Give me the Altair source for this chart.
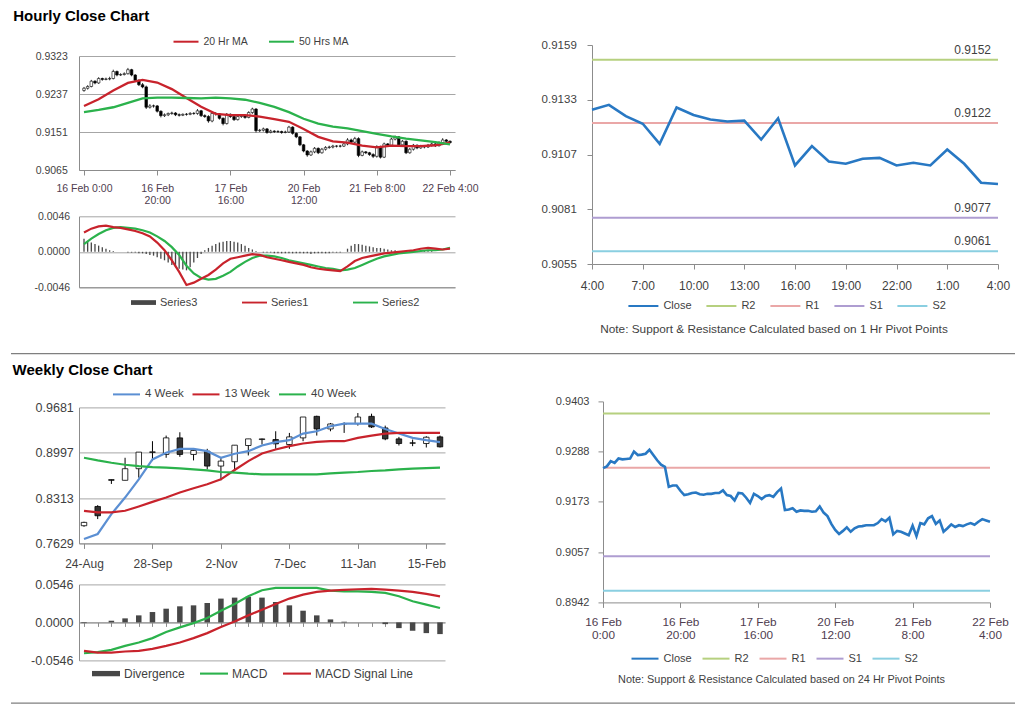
import altair as alt
import pandas as pd

FONT = "Liberation Sans"
AXC = "#8c8c8c"
GRID = "#a6a6a6"
LBL = "#3f3f3f"
DATEC = "#4f3d4f"
RED = "#c8232c"
GREEN = "#2bb24c"
BLUE4 = "#5b8fd3"
CLOSE = "#2878c3"
DARK = "#474747"
LEVEL_NAMES = ["R2", "R1", "S1", "S2"]
LEVEL_COLORS = ["#b6d07f", "#eaa7a7", "#ae9dd1", "#8acfe1"]

# ---------------- Hourly data (in pips: value / 10000) ----------------
h_open = [9245,9250,9254,9266,9262,9272,9270,9271,9272,9288,
          9280,9281,9283,9292,9280,9268,9258,9253,9207,9210,
          9210,9198,9188,9190,9193,9194,9190,9189,9191,9191,
          9193,9193,9199,9188,9186,9176,9193,9192,9182,9170,
          9191,9186,9179,9186,9188,9184,9195,9203,9154,9155,
          9158,9150,9153,9152,9152,9150,9151,9162,9148,9140,
          9122,9108,9099,9106,9114,9104,9112,9116,9117,9119,
          9119,9119,9124,9133,9128,9136,9098,9106,9104,9100,
          9096,9118,9094,9124,9121,9135,9140,9122,9130,9104,
          9112,9121,9115,9119,9117,9121,9124,9120,9127,9133,
          9130]
h_high = [9253,9257,9269,9268,9275,9274,9274,9276,9292,9290,
          9284,9286,9296,9294,9282,9270,9262,9256,9214,9213,
          9212,9200,9193,9195,9197,9196,9193,9193,9194,9196,
          9196,9203,9201,9191,9189,9196,9196,9194,9184,9194,
          9193,9189,9190,9191,9190,9198,9206,9205,9158,9161,
          9160,9156,9155,9155,9154,9154,9165,9164,9150,9142,
          9124,9110,9109,9117,9116,9115,9119,9120,9122,9121,
          9122,9127,9137,9136,9140,9139,9109,9108,9106,9103,
          9121,9120,9127,9126,9138,9143,9142,9133,9132,9115,
          9124,9123,9122,9121,9124,9127,9126,9130,9137,9135,
          9132]
h_low = [9242,9247,9252,9259,9260,9267,9268,9268,9270,9277,
         9278,9279,9281,9277,9265,9255,9250,9203,9204,9206,
         9195,9184,9185,9187,9190,9187,9186,9187,9188,9189,
         9190,9190,9185,9183,9172,9173,9188,9179,9166,9168,
         9183,9176,9177,9183,9181,9182,9192,9150,9151,9152,
         9147,9148,9149,9149,9147,9148,9149,9145,9137,9119,
         9105,9095,9097,9103,9101,9102,9109,9113,9114,9116,
         9116,9117,9121,9125,9126,9094,9096,9101,9097,9092,
         9093,9091,9092,9118,9119,9132,9119,9120,9101,9102,
         9109,9112,9113,9114,9115,9118,9117,9118,9124,9127,
         9125]
h_close = [9250,9254,9266,9262,9272,9270,9271,9272,9288,9280,
           9281,9283,9292,9280,9268,9258,9253,9207,9210,9210,
           9198,9188,9190,9193,9194,9190,9189,9191,9191,9193,
           9193,9199,9188,9186,9176,9193,9192,9182,9170,9191,
           9186,9179,9186,9188,9184,9195,9203,9154,9155,9158,
           9150,9153,9152,9152,9150,9151,9162,9148,9140,9122,
           9108,9099,9106,9114,9104,9112,9116,9117,9119,9119,
           9119,9124,9133,9128,9136,9098,9106,9104,9100,9096,
           9118,9094,9124,9121,9135,9140,9122,9130,9104,9112,
           9121,9115,9119,9117,9121,9124,9120,9127,9133,9130,
           9127]
h_ma_idx = list(range(0, 101, 4))
h_ma20 = [9210,9225,9245,9262,9269,9263,9248,9228,9208,9192,9189,9189,9186,
          9180,9174,9158,9140,9130,9127,9120,9116,9120,9119,9119,9121,9127]
h_ma50 = [9196,9201,9207,9217,9227,9229,9229,9228,9227,9229,9227,9224,9217,
          9208,9196,9181,9170,9163,9159,9153,9147,9141,9136,9132,9128,9123]
h_tick_idx = [0, 20, 40, 60, 80, 100]
h_tick_lbl = ["16 Feb 0:00", "16 Feb|20:00", "17 Feb|16:00", "20 Feb|12:00", "21 Feb 8:00", "22 Feb 4:00"]
h_tick_lbl2 = ["16 Feb|0:00", "16 Feb|20:00", "17 Feb|16:00", "20 Feb|12:00", "21 Feb|8:00", "22 Feb|4:00"]
h_y_ticks = [0.9065, 0.9151, 0.9237, 0.9323]

# hourly oscillator (units of 0.0001)
h_osc_idx = list(range(0, 101, 2))
h_series1 = [25,30,33,34,32,31,29,27,24,20, 12,2,-11,-26,-43,-40,-35,-30,-23,-15,
             -9,-7,-5,-3,-4,-7,-9,-11,-13,-15, -17,-20,-22,-23,-24,-25,-19,-12,-8,-6,
             -4,-2,-1,0,1,2,4,5,4,3, 4]
h_series2 = [10,17,23,28,31,32,31,30,28,25, 20,14,6,-4,-18,-28,-34,-36,-35,-31,
             -26,-19,-13,-8,-5,-5,-6,-8,-11,-13, -15,-17,-19,-21,-22,-24,-23,-21,-17,-13,
             -9,-6,-4,-2,-1,0,1,2,2,3, 5]
h_series3 = [17,14,12,10,8,6,4,2,1,0,
             0,0,-1,-1,-1,-2,-2,-3,-4,-5,
             -7,-9,-11,-14,-17,-20,-22,-23,-24,-20,
             -14,-8,-3,2,5,8,10,12,13,14,
             14,13,12,10,8,5,3,1,0,-1,
             -1,-1,-2,-2,-2,-2,-2,-2,-2,-2,
             -2,-2,-3,-2,-2,-2,-2,-2,-1,-1,
             -1,0,4,8,10,10,9,8,7,6,
             5,5,4,3,2,2,1,1,1,1,
             1,1,1,1,1,1,0,0,0,0,
             0]
h_osc_ticks = [-0.0046, 0.0, 0.0046]

# 1 hour pivot chart
p1_close = [0.91283,0.91306,0.91252,0.91216,0.91121,0.91293,0.91258,0.91236,0.91227,0.91231,
            0.91141,0.91242,0.91018,0.91110,0.91037,0.91026,0.91050,0.91054,0.91018,0.91031,
            0.91018,0.91094,0.91026,0.90936,0.90930]
p1_ticks = [0, 3, 6, 9, 12, 15, 18, 21, 24]
p1_tick_lbl = ["4:00", "7:00", "10:00", "13:00", "16:00", "19:00", "22:00", "1:00", "4:00"]
p1_levels = [0.9152, 0.9122, 0.9077, 0.9061]
p1_y_ticks = [0.9055, 0.9081, 0.9107, 0.9133, 0.9159]

# 24 hour pivot chart (uses hourly closes)
p24_levels = [0.9375, 0.9251, 0.9048, 0.8969]
p24_y_ticks = [0.8942, 0.9057, 0.9173, 0.9288, 0.9403]

# ---------------- Weekly data ----------------
w_open = [0.7896,0.8186,0.8591,0.8581,0.8756,0.9001,0.8971,0.9221,0.8971,0.9021,0.8796,0.8861,0.9106,
          0.9196,0.9196,0.9121,0.9221,0.9546,0.9356,0.9431,0.9436,0.9546,0.9371,0.9206,0.9146,0.9136,0.9236]
w_high = [0.7956,0.8206,0.8591,0.8921,0.9006,0.9171,0.9256,0.9306,0.9031,0.9056,0.8921,0.9111,0.9206,
          0.9211,0.9321,0.9296,0.9536,0.9556,0.9446,0.9456,0.9596,0.9586,0.9406,0.9236,0.9196,0.9246,0.9256]
w_low = [0.7880,0.7996,0.8526,0.8581,0.8621,0.8871,0.8921,0.8936,0.8881,0.8746,0.8581,0.8731,0.8956,
         0.9121,0.9056,0.9056,0.9171,0.9256,0.9321,0.9296,0.9406,0.9371,0.9186,0.9106,0.9096,0.9076,0.9076]
w_close = [0.7946,0.8046,0.8581,0.8756,0.9006,0.9011,0.9221,0.8971,0.9031,0.8796,0.8871,0.9111,0.9206,
           0.9206,0.9131,0.9236,0.9536,0.9356,0.9431,0.9436,0.9536,0.9386,0.9206,0.9136,0.9141,0.9231,0.9086]
w_ma4 = [0.7696,0.7771,0.8071,0.8321,0.8596,0.8896,0.8996,0.9056,0.9056,0.9021,0.8921,0.8981,0.9021,
         0.9106,0.9156,0.9186,0.9286,0.9321,0.9396,0.9436,0.9436,0.9436,0.9356,0.9286,0.9221,0.9186,0.9156]
w_ma13 = [0.8121,0.8096,0.8096,0.8121,0.8186,0.8256,0.8321,0.8396,0.8461,0.8521,0.8596,0.8736,0.8871,
          0.8986,0.9046,0.9096,0.9136,0.9161,0.9171,0.9171,0.9221,0.9256,0.9286,0.9296,0.9296,0.9296,0.9296]
w_ma40 = [0.8921,0.8881,0.8846,0.8816,0.8796,0.8781,0.8771,0.8761,0.8746,0.8731,0.8706,0.8696,0.8681,
          0.8671,0.8671,0.8671,0.8671,0.8671,0.8686,0.8696,0.8706,0.8721,0.8731,0.8746,0.8756,0.8766,0.8771]
w_div = [-0.0010,0.0,0.0024,0.0058,0.0101,0.0149,0.0197,0.0231,0.0245,0.0279,0.0342,0.0356,0.0370,
         0.0356,0.0293,0.0245,0.0168,0.0101,0.0043,0.0010,0.0,0.0,-0.0025,-0.0082,-0.0120,-0.0154,-0.0168]
w_macd = [-0.0443,-0.0428,-0.0394,-0.0337,-0.0289,-0.0226,-0.0139,-0.0072,-0.0010,0.0063,0.0168,0.0265,0.0375,
          0.0462,0.0495,0.0495,0.0495,0.0495,0.0457,0.0447,0.0447,0.0438,0.0423,0.0375,0.0303,0.0255,0.0207]
w_signal = [-0.0409,-0.0433,-0.0433,-0.0418,-0.0409,-0.0380,-0.0337,-0.0289,-0.0226,-0.0154,-0.0067,0.0014,0.0101,
            0.0183,0.0265,0.0342,0.0399,0.0438,0.0457,0.0467,0.0476,0.0481,0.0471,0.0457,0.0438,0.0409,0.0375]
w_ticks = [0, 5, 10, 15, 20, 25]
w_tick_lbl = ["24-Aug", "28-Sep", "2-Nov", "7-Dec", "11-Jan", "15-Feb"]
w_y_ticks = [0.7629, 0.8313, 0.8997, 0.9681]
w_osc_ticks = [-0.0546, 0.0, 0.0546]

THICK = "M-1,-0.19H1V0.19H-1Z"
THIN = "M-1,-0.075H1V0.075H-1Z"
NUM_EXPR = "datum.value < 0 ? '-' + format(-datum.value, '.4f') : format(datum.value, '.4f')"


def pip(v, k=10000.0):
    return [x / k for x in v]


def lexpr(ticks, labels):
    arr = ",".join("'" + s + "'" for s in labels)
    tv = ",".join(str(t) for t in ticks)
    return "split([" + arr + "][indexof([" + tv + "], datum.value)], '|')"


def xenc(dmax, ticks, labels, fs, color, pad, lh=12.5, tick=5, show=True, offset=0, tickvals=None):
    ax = dict(title=None, grid=False, domainColor=AXC, tickColor=AXC, tickSize=tick,
              labelPadding=pad, labelFontSize=fs, labelColor=color, labelLineHeight=lh,
              labelOverlap=False, labelFlush=False, labelBound=False, offset=offset)
    if show:
        ax.update(values=ticks, labelExpr=lexpr(ticks, labels))
    else:
        ax.update(values=tickvals if tickvals is not None else ticks, labels=False)
        if tick == 0:
            ax.update(ticks=False)
    return alt.X("i:Q", scale=alt.Scale(domain=[0, dmax], nice=False, zero=False), axis=alt.Axis(**ax))


def yenc(field, dom, ticks, fs, pad, grid=True, tick=0, rng=None):
    ax = dict(values=ticks, labelExpr=NUM_EXPR, title=None, grid=grid, gridColor=GRID, domainColor=AXC,
              labelPadding=pad, labelFontSize=fs, labelColor=LBL)
    if tick:
        ax.update(ticks=True, tickSize=tick, tickColor=AXC)
    else:
        ax.update(ticks=False)
    sc = dict(domain=dom, nice=False, zero=False)
    if rng is not None:
        sc["range"] = rng
    return alt.Y(field + ":Q", scale=alt.Scale(**sc), axis=alt.Axis(**ax))


def line_legend(x, y, length, fs, colpad, each=False):
    kw = dict(orient="none", legendX=x, legendY=y, direction="horizontal", title=None,
              symbolType="stroke", symbolSize=length * length, symbolStrokeWidth=2,
              labelFontSize=fs, labelColor=LBL, columnPadding=colpad, padding=0,
              labelOffset=4, labelFont=FONT)
    if each:
        kw["gridAlign"] = "each"
    return alt.Legend(**kw)


def mixed_legend(x, y, length, fs, colpad):
    return alt.Legend(orient="none", legendX=x, legendY=y, direction="horizontal", title=None,
                      symbolSize=length * length, symbolOpacity=1, symbolStrokeWidth=0,
                      labelFontSize=fs, labelColor=LBL, columnPadding=colpad, padding=0,
                      labelOffset=4, labelFont=FONT)


# ---------------- Hourly main (candles + MAs) ----------------
HM_W, HM_H, HM_TOP = 376, 114, 11
n_h = len(h_close)
hc = pd.DataFrame({"i": list(range(n_h)), "o": pip(h_open), "h": pip(h_high),
                   "l": pip(h_low), "c": pip(h_close)})
hma = pd.concat([
    pd.DataFrame({"i": h_ma_idx, "v": pip(h_ma20), "s": "20 Hr MA"}),
    pd.DataFrame({"i": h_ma_idx, "v": pip(h_ma50), "s": "50 Hrs MA"}),
])
hx = xenc(100, h_tick_idx, h_tick_lbl, 10.5, DATEC, 8)
hdom = [0.9065, 0.9323]
hrng = [HM_H + HM_TOP, HM_TOP]
h_wick = alt.Chart(hc).mark_rule(color="#000", strokeWidth=0.8).encode(
    x=hx, y=yenc("l", hdom, h_y_ticks, 10.5, 11.7, rng=hrng), y2="h")
h_body = alt.Chart(hc).mark_bar(size=2.6, stroke="#000", strokeWidth=0.6).encode(
    x=hx, y=yenc("o", hdom, h_y_ticks, 10.5, 11.7, rng=hrng), y2="c",
    fill=alt.condition("datum.o > datum.c", alt.value("#000"), alt.value("#fff")))
h_lines = alt.Chart(hma).mark_line(strokeWidth=2.3).encode(
    x=hx, y=yenc("v", hdom, h_y_ticks, 10.5, 11.7, rng=hrng),
    color=alt.Color("s:N", scale=alt.Scale(domain=["20 Hr MA", "50 Hrs MA"], range=[RED, GREEN]),
                    legend=line_legend(93.5, HM_TOP - 14 - 13.8, 25, 10.5, 16.5)))
hmain = alt.layer(h_wick, h_body, h_lines).properties(width=HM_W, height=HM_H + HM_TOP)

# ---------------- Hourly oscillator ----------------
ho_bars = pd.DataFrame({"i": list(range(len(h_series3))), "v": pip(h_series3), "s": "Series3"})
ho_s1 = pd.DataFrame({"i": h_osc_idx, "v": pip(h_series1), "s": "Series1"})
ho_s2 = pd.DataFrame({"i": h_osc_idx, "v": pip(h_series2), "s": "Series2"})
ho_all = pd.concat([ho_bars, ho_s1, ho_s2])
ho_names = ["Series3", "Series1", "Series2"]
ho_scale = alt.Scale(domain=ho_names, range=[DARK, RED, GREEN])
ho_shape = alt.Scale(domain=ho_names, range=[THICK, THIN, THIN])
hox = xenc(100, h_tick_idx, h_tick_lbl, 10.5, DATEC, 8, tick=0, show=False)
hody = [-0.0046, 0.0046]


def hoy():
    return yenc("v", hody, h_osc_ticks, 10.5, 9.4)


ho_b = alt.Chart(ho_bars).mark_bar(size=1.3, color=DARK).encode(x=hox, y=hoy())
ho_l1 = alt.Chart(ho_s1).mark_line(strokeWidth=2.2, color=RED).encode(x=hox, y=hoy())
ho_l2 = alt.Chart(ho_s2).mark_line(strokeWidth=2.2, color=GREEN).encode(x=hox, y=hoy())
ho_leg = mixed_legend(52, 87.3 - 13.8, 25, 11, 44)
ho_p = alt.Chart(ho_all).mark_point(filled=True, opacity=0).encode(
    x=hox, y=hoy(),
    color=alt.Color("s:N", scale=ho_scale, legend=ho_leg),
    shape=alt.Shape("s:N", scale=ho_shape, legend=ho_leg))
hosc = alt.layer(ho_b, ho_l2, ho_l1, ho_p).properties(width=HM_W, height=71)


# ---------------- Pivot charts ----------------
def pivot_chart(closes, levels, dmax, ticks, labels, ydom, yticks, w, h, xfs, xpad, lh, yfs, ypad,
                legx, legy, leglen, legfs, legpad, note, notefs, notedx, noteoff, show_values):
    cdf = pd.DataFrame({"i": list(range(len(closes))), "v": closes, "s": "Close"})
    ldf = pd.DataFrame({"i": [len(closes) - 1] * len(levels), "v": levels, "s": LEVEL_NAMES,
                        "lab": ["%.4f" % v for v in levels]})
    x = xenc(dmax, ticks, labels, xfs, DATEC if "Feb" in labels[0] else LBL, xpad, lh=lh)
    y = yenc("v", ydom, yticks, yfs, ypad, grid=False, tick=5)
    cs = alt.Scale(domain=["Close"] + LEVEL_NAMES, range=[CLOSE] + LEVEL_COLORS)
    leg = line_legend(legx, legy, leglen, legfs, legpad, each=True)
    rules = alt.Chart(ldf).mark_rule(strokeWidth=2).encode(
        y=y, color=alt.Color("s:N", scale=cs, legend=leg))
    line = alt.Chart(cdf).mark_line(strokeWidth=2.6).encode(
        x=x, y=y, color=alt.Color("s:N", scale=cs, legend=leg))
    layers = [rules, line]
    if show_values:
        txt = alt.Chart(ldf).mark_text(align="right", baseline="bottom", dx=-7, dy=-3,
                                       fontSize=12, color=LBL, font=FONT).encode(
            x=x, y=y, text="lab:N")
        layers.append(txt)
    return alt.layer(*layers).properties(
        width=w, height=h,
        title=alt.TitleParams(note, orient="bottom", anchor="middle", fontSize=notefs,
                              fontWeight="normal", color=LBL, font=FONT, dx=notedx, offset=noteoff))


hright = pivot_chart(p1_close, p1_levels, 24, p1_ticks, p1_tick_lbl, [0.9055, 0.9159], p1_y_ticks,
                     406, 219, 12, 11, 13, 11.5, 10.7, 35.4, 245, 30, 11, 10,
                     "Note: Support & Resistance Calculated based on 1 Hr Pivot Points", 11.8, -21, 13, True)

# ---------------- Weekly main ----------------
WM_W, WM_H, WM_TOP = 366, 136, 6
n_w = len(w_close)
wc = pd.DataFrame({"i": list(range(n_w)), "o": w_open, "h": w_high, "l": w_low, "c": w_close})
wma = pd.concat([
    pd.DataFrame({"i": list(range(n_w)), "v": w_ma4, "s": "4 Week"}),
    pd.DataFrame({"i": list(range(n_w)), "v": w_ma13, "s": "13 Week"}),
    pd.DataFrame({"i": list(range(n_w)), "v": w_ma40, "s": "40 Week"}),
])
wx = xenc(26, w_ticks, w_tick_lbl, 12, LBL, 10)
wdom = [0.7629, 0.9681]
wrng = [WM_H + WM_TOP, WM_TOP]
w_wick = alt.Chart(wc).mark_rule(color="#000", strokeWidth=1).encode(
    x=wx, y=yenc("l", wdom, w_y_ticks, 12.5, 5.7, rng=wrng), y2="h")
w_body = alt.Chart(wc).mark_bar(size=5.5, stroke="#000", strokeWidth=0.8).encode(
    x=wx, y=yenc("o", wdom, w_y_ticks, 12.5, 5.7, rng=wrng), y2="c",
    fill=alt.condition("datum.o > datum.c", alt.value("#333"), alt.value("#fff")))
w_lines = alt.Chart(wma).mark_line(strokeWidth=2.2).encode(
    x=wx, y=yenc("v", wdom, w_y_ticks, 12.5, 5.7, rng=wrng),
    color=alt.Color("s:N", scale=alt.Scale(domain=["4 Week", "13 Week", "40 Week"], range=[BLUE4, RED, GREEN]),
                    legend=line_legend(33, WM_TOP - 13.7 - 13.8, 27, 11.5, 4.5)))
wmain = alt.layer(w_wick, w_body, w_lines).properties(width=WM_W, height=WM_H + WM_TOP)

# ---------------- Weekly MACD ----------------
wo_bars = pd.DataFrame({"i": list(range(n_w)), "v": w_div, "s": "Divergence"})
wo_m = pd.DataFrame({"i": list(range(n_w)), "v": w_macd, "s": "MACD"})
wo_s = pd.DataFrame({"i": list(range(n_w)), "v": w_signal, "s": "MACD Signal Line"})
wo_all = pd.concat([wo_bars, wo_m, wo_s])
wo_names = ["Divergence", "MACD", "MACD Signal Line"]
wo_scale = alt.Scale(domain=wo_names, range=[DARK, GREEN, RED])
wo_shape = alt.Scale(domain=wo_names, range=[THICK, THIN, THIN])
wox = xenc(26, w_ticks, w_tick_lbl, 12, LBL, 8, tick=4, show=False, offset=-38,
           tickvals=list(range(n_w)))
wody = [-0.0546, 0.0546]


def woy():
    return yenc("v", wody, w_osc_ticks, 12.5, 6)


wo_b = alt.Chart(wo_bars).mark_bar(size=5.5, color=DARK).encode(x=wox, y=woy())
wo_l1 = alt.Chart(wo_m).mark_line(strokeWidth=2.2, color=GREEN).encode(x=wox, y=woy())
wo_l2 = alt.Chart(wo_s).mark_line(strokeWidth=2.2, color=RED).encode(x=wox, y=woy())
wo_leg = mixed_legend(13, 89 - 13.8, 28, 12, 15)
wo_p = alt.Chart(wo_all).mark_point(filled=True, opacity=0).encode(
    x=wox, y=woy(),
    color=alt.Color("s:N", scale=wo_scale, legend=wo_leg),
    shape=alt.Shape("s:N", scale=wo_shape, legend=wo_leg))
wosc = alt.layer(wo_b, wo_l1, wo_l2, wo_p).properties(width=WM_W, height=76)

wright = pivot_chart(pip(h_close), p24_levels, 100, h_tick_idx, h_tick_lbl2, [0.8942, 0.9403], p24_y_ticks,
                     387, 201, 11.8, 9, 13.5, 11, 9, 27.5, 242.5, 27, 11, 6,
                     "Note: Support & Resistance Calculated based on 24 Hr Pivot Points", 10.9, -15, 10, False)


# ---------------- Layout ----------------
def indep(c):
    return c.resolve_scale(color="independent", shape="independent", x="independent", y="independent")


def section_title(t, dx, off):
    return alt.TitleParams(t, anchor="start", fontSize=15, fontWeight="bold", font=FONT,
                           color="#000", offset=off, dx=dx)


SEP_LEFT = 68
SEP_W = 936
sep_df = pd.DataFrame({"a": [0], "b": [1]})


def separator():
    return alt.Chart(sep_df).mark_rule(color="#7f7f7f", strokeWidth=1.2).encode(
        x=alt.X("a:Q", scale=alt.Scale(domain=[0, 1], nice=False, range=[-SEP_LEFT, SEP_W]), axis=None),
        x2="b:Q",
        y=alt.Y("a:Q", scale=alt.Scale(domain=[0, 1], nice=False), axis=None),
    ).properties(width=SEP_W, height=10)


left1 = indep(alt.vconcat(hmain, hosc, spacing=5.3))
row1 = indep(alt.hconcat(left1, hright, spacing=62)).properties(
    title=section_title("Hourly Close Chart", -20.7, 4.6))
left2 = indep(alt.vconcat(wmain, wosc, spacing=9))
row2 = indep(alt.hconcat(left2, wright, spacing=109)).properties(
    title=section_title("Weekly Close Chart", -18, 1.6))

chart = indep(alt.concat(row1, separator(), row2, separator(), columns=1, spacing=7.7)).properties(
    padding={"left": 2, "top": 0, "right": 0, "bottom": 0}
).configure(font=FONT).configure_view(strokeWidth=0).configure_axis(
    labelFont=FONT).configure_legend(labelFont=FONT).configure_title(font=FONT)

chart.save("out.html", embed_options={"renderer": "svg", "actions": False})
